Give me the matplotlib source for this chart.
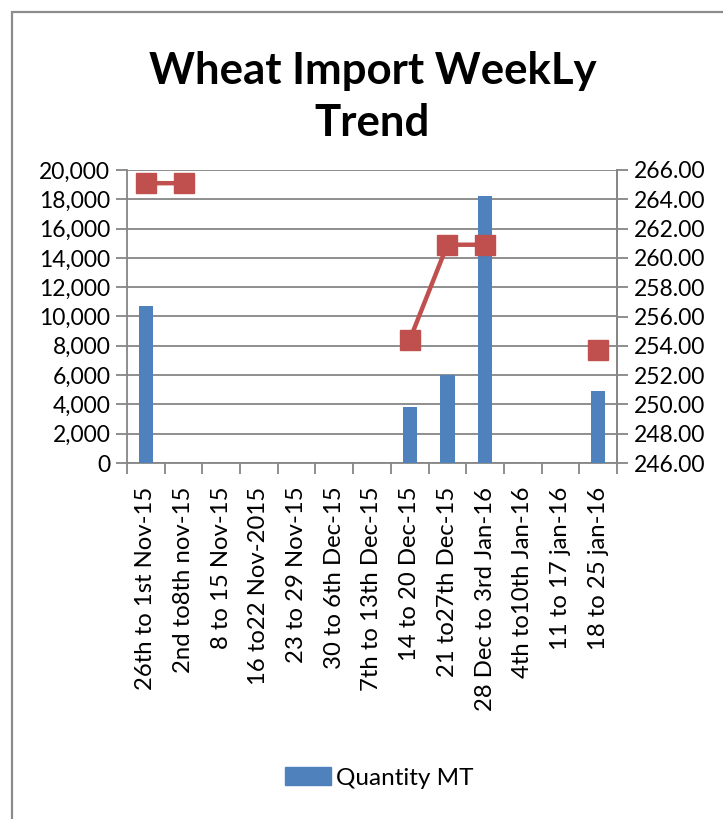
import matplotlib
matplotlib.use('Agg')
import matplotlib.pyplot as plt
from matplotlib.patches import Patch, Rectangle
import numpy as np

plt.rcParams['font.family'] = ['Lato', 'DejaVu Sans']

weeks = ['26th to 1st Nov-15', '2nd to8th nov-15', '8 to 15 Nov-15', '16 to22 Nov-2015',
         '23 to 29 Nov-15', '30 to 6th Dec-15', '7th to 13th Dec-15', '14 to 20 Dec-15',
         '21 to27th Dec-15', '28 Dec to 3rd Jan-16', '4th to10th Jan-16', '11 to 17 jan-16',
         '18 to 25 jan-16']
quantity_mt = [10700, 0, 0, 0, 0, 0, 0, 3800, 6000, 18200, 0, 0, 4900]
price = [265.1, 265.1, np.nan, np.nan, np.nan, np.nan, np.nan, 254.4, 260.9, 260.9,
         np.nan, np.nan, 253.7]

grid_c = '#868686'
fig = plt.figure(figsize=(7.23, 8.19), dpi=100)
ax = fig.add_axes([127 / 723, 1 - 463 / 819, 490 / 723, 293 / 819])
x = np.arange(len(weeks))

ax.bar(x, quantity_mt, width=0.38, color='#4F81BD', zorder=3)
ax.set_xlim(-0.5, len(weeks) - 0.5)
ax.set_ylim(0, 20000)
ax.set_yticks(np.arange(0, 20001, 2000))
ax.set_yticklabels([f'{v:,}' for v in range(0, 20001, 2000)])
ax.yaxis.grid(True, color=grid_c, lw=1.3)
ax.set_axisbelow(True)

# category ticks at the boundaries, labels at the centres
ax.set_xticks(np.arange(-0.5, len(weeks), 1.0))
ax.set_xticklabels([])
ax.set_xticks(x, minor=True)
ax.set_xticklabels(weeks, minor=True, rotation=90, fontsize=17.2)
ax.tick_params(axis='x', which='minor', length=0, pad=17)
ax.tick_params(axis='x', which='major', length=8, color=grid_c, width=1.3)
ax.tick_params(axis='y', length=8, color=grid_c, width=1.3, labelsize=16.5, pad=4)
ax.spines['top'].set_visible(False)
for s in ['left', 'right', 'bottom']:
    ax.spines[s].set_color(grid_c)
    ax.spines[s].set_linewidth(1.3)

ax2 = ax.twinx()
ax2.plot(x, price, color='#C0504D', lw=3.2, marker='s', ms=14, zorder=4)
ax2.set_ylim(246, 266)
ax2.set_yticks(np.arange(246, 266.1, 2))
ax2.set_yticklabels([f'{v:.2f}' for v in np.arange(246, 266.1, 2)])
ax2.tick_params(axis='y', length=8, color=grid_c, width=1.3, labelsize=16.5, pad=4)
for s in ['top', 'left', 'bottom']:
    ax2.spines[s].set_visible(False)
ax2.spines['right'].set_color(grid_c)
ax2.spines['right'].set_linewidth(1.3)

fig.text(0.515, 1 - 97 / 819, 'Wheat Import WeekLy\nTrend', ha='center', va='center',
         fontsize=31.5, fontweight='bold', linespacing=1.38)

fig.legend(handles=[Patch(color='#4F81BD', label='Quantity MT')], loc='center',
           bbox_to_anchor=(379 / 723, 1 - 778 / 819), frameon=False, fontsize=17.5,
           handlelength=1.9, handleheight=0.7, handletextpad=0.2)

fig.patches.append(Rectangle((12 / 723, -0.2), 2, 1 - 12 / 819 + 0.2, transform=fig.transFigure,
                             fill=False, edgecolor='#8c8c8c', lw=1.6))

fig.savefig('out.png', dpi=100)
